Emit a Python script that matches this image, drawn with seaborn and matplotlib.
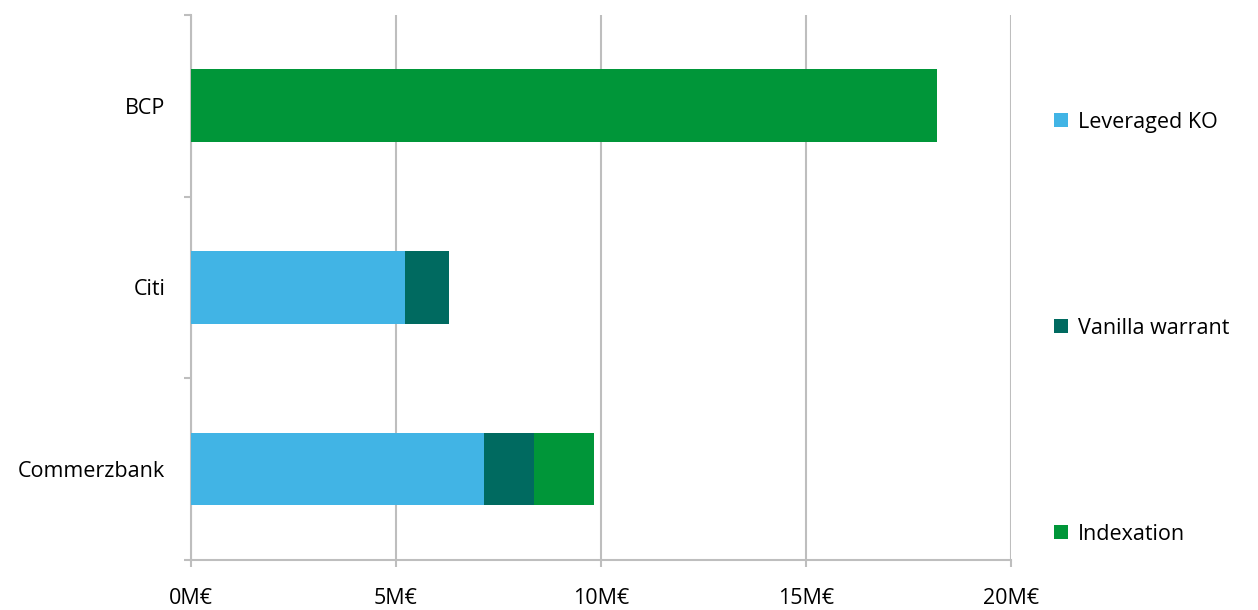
import matplotlib

matplotlib.use("Agg")

import matplotlib.pyplot as plt
import pandas as pd
import seaborn as sns
from matplotlib.patches import Patch
from matplotlib.ticker import FuncFormatter, MultipleLocator

banks = ["BCP", "Citi", "Commerzbank"]
leveraged_ko = [0.0, 5.22, 7.14]
vanilla_warrant = [0.0, 1.07, 1.22]
indexation = [18.2, 0.0, 1.46]
series_names = ["Leveraged KO", "Vanilla warrant", "Indexation"]
colors = ["#41B4E5", "#006A60", "#009639"]

df = pd.DataFrame(
    {
        "bank": banks,
        "Leveraged KO": leveraged_ko,
        "Vanilla warrant": vanilla_warrant,
        "Indexation": indexation,
    }
)
# cumulative ends of each segment, drawn back to front
cum = df[series_names].cumsum(axis=1)
cum["bank"] = df["bank"]

sns.set_style("white")
plt.rcParams["font.family"] = ["Open Sans", "DejaVu Sans"]
plt.rcParams["text.color"] = "black"
plt.rcParams["xtick.labelcolor"] = "black"
plt.rcParams["ytick.labelcolor"] = "black"

fig = plt.figure(figsize=(12.58, 6.10), dpi=100)
ax = fig.add_axes([0.1518, 0.082, 0.652, 0.8935])

for name, color in reversed(list(zip(series_names, colors))):
    sns.barplot(
        data=cum,
        x=name,
        y="bank",
        order=banks,
        orient="h",
        color=color,
        saturation=1,
        width=0.4,
        edgecolor="none",
        linewidth=0,
        ax=ax,
        zorder=3,
    )

ax.set_xlim(0, 20)
ax.set_ylim(2.5, -0.5)
ax.xaxis.set_major_locator(MultipleLocator(5))
ax.xaxis.set_major_formatter(FuncFormatter(lambda v, _: f"{v:.0f}M€"))
ax.grid(axis="x", color="#BEBEBE", linewidth=1.5, zorder=0)
ax.set_xlabel("")
ax.set_ylabel("")

ax.set_yticks([0, 1, 2])
ax.set_yticklabels(banks)
ax.set_yticks([-0.5, 0.5, 1.5, 2.5], minor=True)
ax.tick_params(axis="y", which="major", length=0, pad=18.5, labelsize=15.5)
ax.tick_params(axis="y", which="minor", length=5, width=1.5, color="#BEBEBE", direction="out", left=True)
ax.tick_params(axis="x", length=5, width=1.5, color="#BEBEBE", direction="out", bottom=True, labelsize=15.5, pad=15)

for side in ["top", "right"]:
    ax.spines[side].set_visible(False)
for side in ["left", "bottom"]:
    ax.spines[side].set_color("#BEBEBE")
    ax.spines[side].set_linewidth(1.5)

handles = [Patch(facecolor=c, edgecolor="none") for c in colors]
fig.legend(
    handles,
    series_names,
    loc="center left",
    bbox_to_anchor=(0.838, 0.462),
    frameon=False,
    fontsize=15.5,
    handlelength=0.65,
    handleheight=0.65,
    handletextpad=0.45,
    labelspacing=8.6,
    borderpad=0,
    borderaxespad=0,
)

fig.savefig("out.png", dpi=100)
plt.close(fig)
